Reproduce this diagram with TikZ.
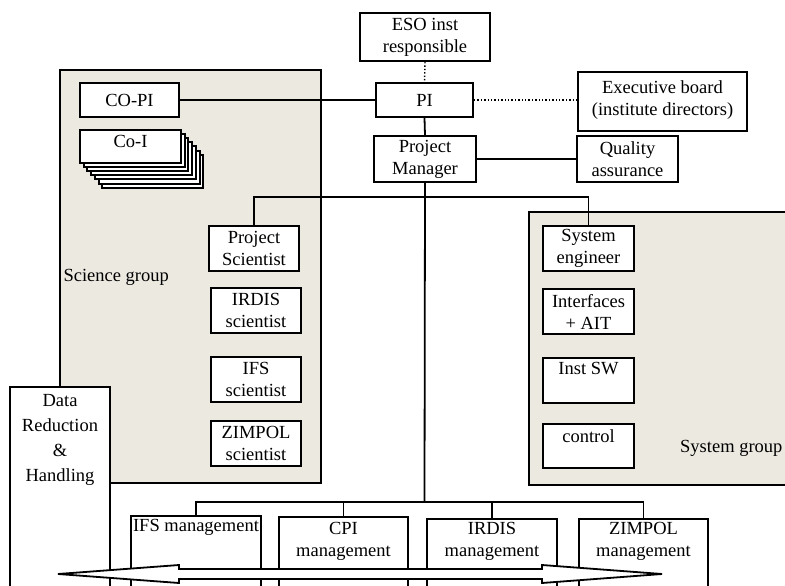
\documentclass[tikz,border=0pt]{standalone}
\usepackage{fontspec}
\setmainfont{Liberation Serif}
\definecolor{grp}{RGB}{236,233,225}
\begin{document}
\begin{tikzpicture}[x=1pt,y=-1pt,
  every node/.style={font=\fontsize{18.5}{22}\selectfont},
  box/.style={draw, fill=white, line width=2pt, inner sep=0pt, align=center},
  grpbox/.style={draw, fill=grp, line width=2pt},
  conn/.style={line width=1.8pt},
  dots/.style={line width=1.4pt, dotted},
  every label/.style={align=center, inner sep=0pt, anchor=center}]
\useasboundingbox (0,0) rectangle (785,586);
\clip (0,0) rectangle (785,586);
% groups
\draw[grpbox] (60,70) rectangle (321,483);
\draw[grpbox] (529,212) rectangle (810,485);
\node[anchor=west] (scilab) at (60,277) {Science group};
\node[anchor=east] (syslab) at (786,448) {System group};
% boxes
\node[box, minimum width=130, minimum height=48] (eso) at (425,37) {ESO inst\\responsible};
\node[box, minimum width=97, minimum height=34] (pi) at (424.5,100) {PI};
\node[box, minimum width=169, minimum height=59, label={[yshift=-29.5pt]north:Executive board\\(institute directors)}] (exec) at (662.5,101.5) {};
\node[box, minimum width=99, minimum height=34] (copi) at (129.5,100) {CO-PI};
\foreach \k in {6,5,4,3,2,1}{
  \node[box, minimum width=101, minimum height=33] (coi\k) at (130.5+3.7*\k,146.5+4.1*\k) {};
}
\node[box, minimum width=101, minimum height=33, label={[yshift=-12pt]north:Co-I}] (coi) at (130.5,146.5) {};
\node[box, minimum width=102, minimum height=46] (pm) at (425,159) {Project\\Manager};
\node[box, minimum width=101, minimum height=46] (qa) at (627.5,159) {Quality\\assurance};
\node[box, minimum width=90, minimum height=45] (ps) at (254,248.5) {Project\\Scientist};
\node[box, minimum width=90, minimum height=45] (irds) at (256,310.5) {IRDIS\\scientist};
\node[box, minimum width=90, minimum height=45] (ifss) at (256,379.5) {IFS\\scientist};
\node[box, minimum width=90, minimum height=45] (zims) at (256,443.5) {ZIMPOL\\scientist};
\node[box, minimum width=91, minimum height=45] (se) at (588.5,248.5) {System\\engineer};
\node[box, minimum width=91, minimum height=45] (ifa) at (588.5,311.5) {Interfaces\\+ AIT};
\node[box, minimum width=91, minimum height=45, label={[yshift=-12pt]north:Inst SW}] (isw) at (588.5,380.5) {};
\node[box, minimum width=91, minimum height=44, label={[yshift=-13pt]north:control}] (ctl) at (588.5,446) {};
\node[box, minimum width=100, minimum height=233, label={[yshift=-53.5pt, font=\fontsize{18.5}{25}\selectfont]north:Data\\Reduction\\\&\\Handling}] (drh) at (60,503.5) {};
\node[box, minimum width=130, minimum height=104, label={[yshift=-12pt]north:IFS management}] (ifsm) at (196,568) {};
\node[box, minimum width=129, minimum height=103, label={[yshift=-25pt]north:CPI\\management}] (cpim) at (343.5,568.5) {};
\node[box, minimum width=130, minimum height=101, label={[yshift=-23.5pt]north:IRDIS\\management}] (irdm) at (492,569.5) {};
\node[box, minimum width=129, minimum height=101, label={[yshift=-23.5pt]north:ZIMPOL\\management}] (zimm) at (643.5,569.5) {};
% connectors
\coordinate (bus1) at (424.5,197);
\coordinate (bus2) at (424.5,502);
\draw[dots] (eso.south) -- (pi.north);
\draw[dots] (pi.east) -- (pi.east -| exec.west);
\draw[conn] (copi.east) -- (pi.west);
\draw[conn] (pi.south) -- (pm.north);
\draw[conn] (pm.east) -- (qa.west);
\draw[conn] (pm.south) -- (bus2);
\draw[conn] (ps.north) |- (bus1) -| (se.north);
\draw[conn] (ifsm.north) |- (bus2) -| (zimm.north);
\draw[conn] (cpim.north) -- (cpim.north |- bus2);
\draw[conn] (irdm.north) -- (irdm.north |- bus2);
% double arrow
\draw[line width=1.8pt, fill=white] (58,574) -- (179,565) -- (179,569) -- (542,569) -- (542,565) -- (662,574) -- (542,583) -- (542,579) -- (179,579) -- (179,583) -- cycle;
\end{tikzpicture}
\end{document}
